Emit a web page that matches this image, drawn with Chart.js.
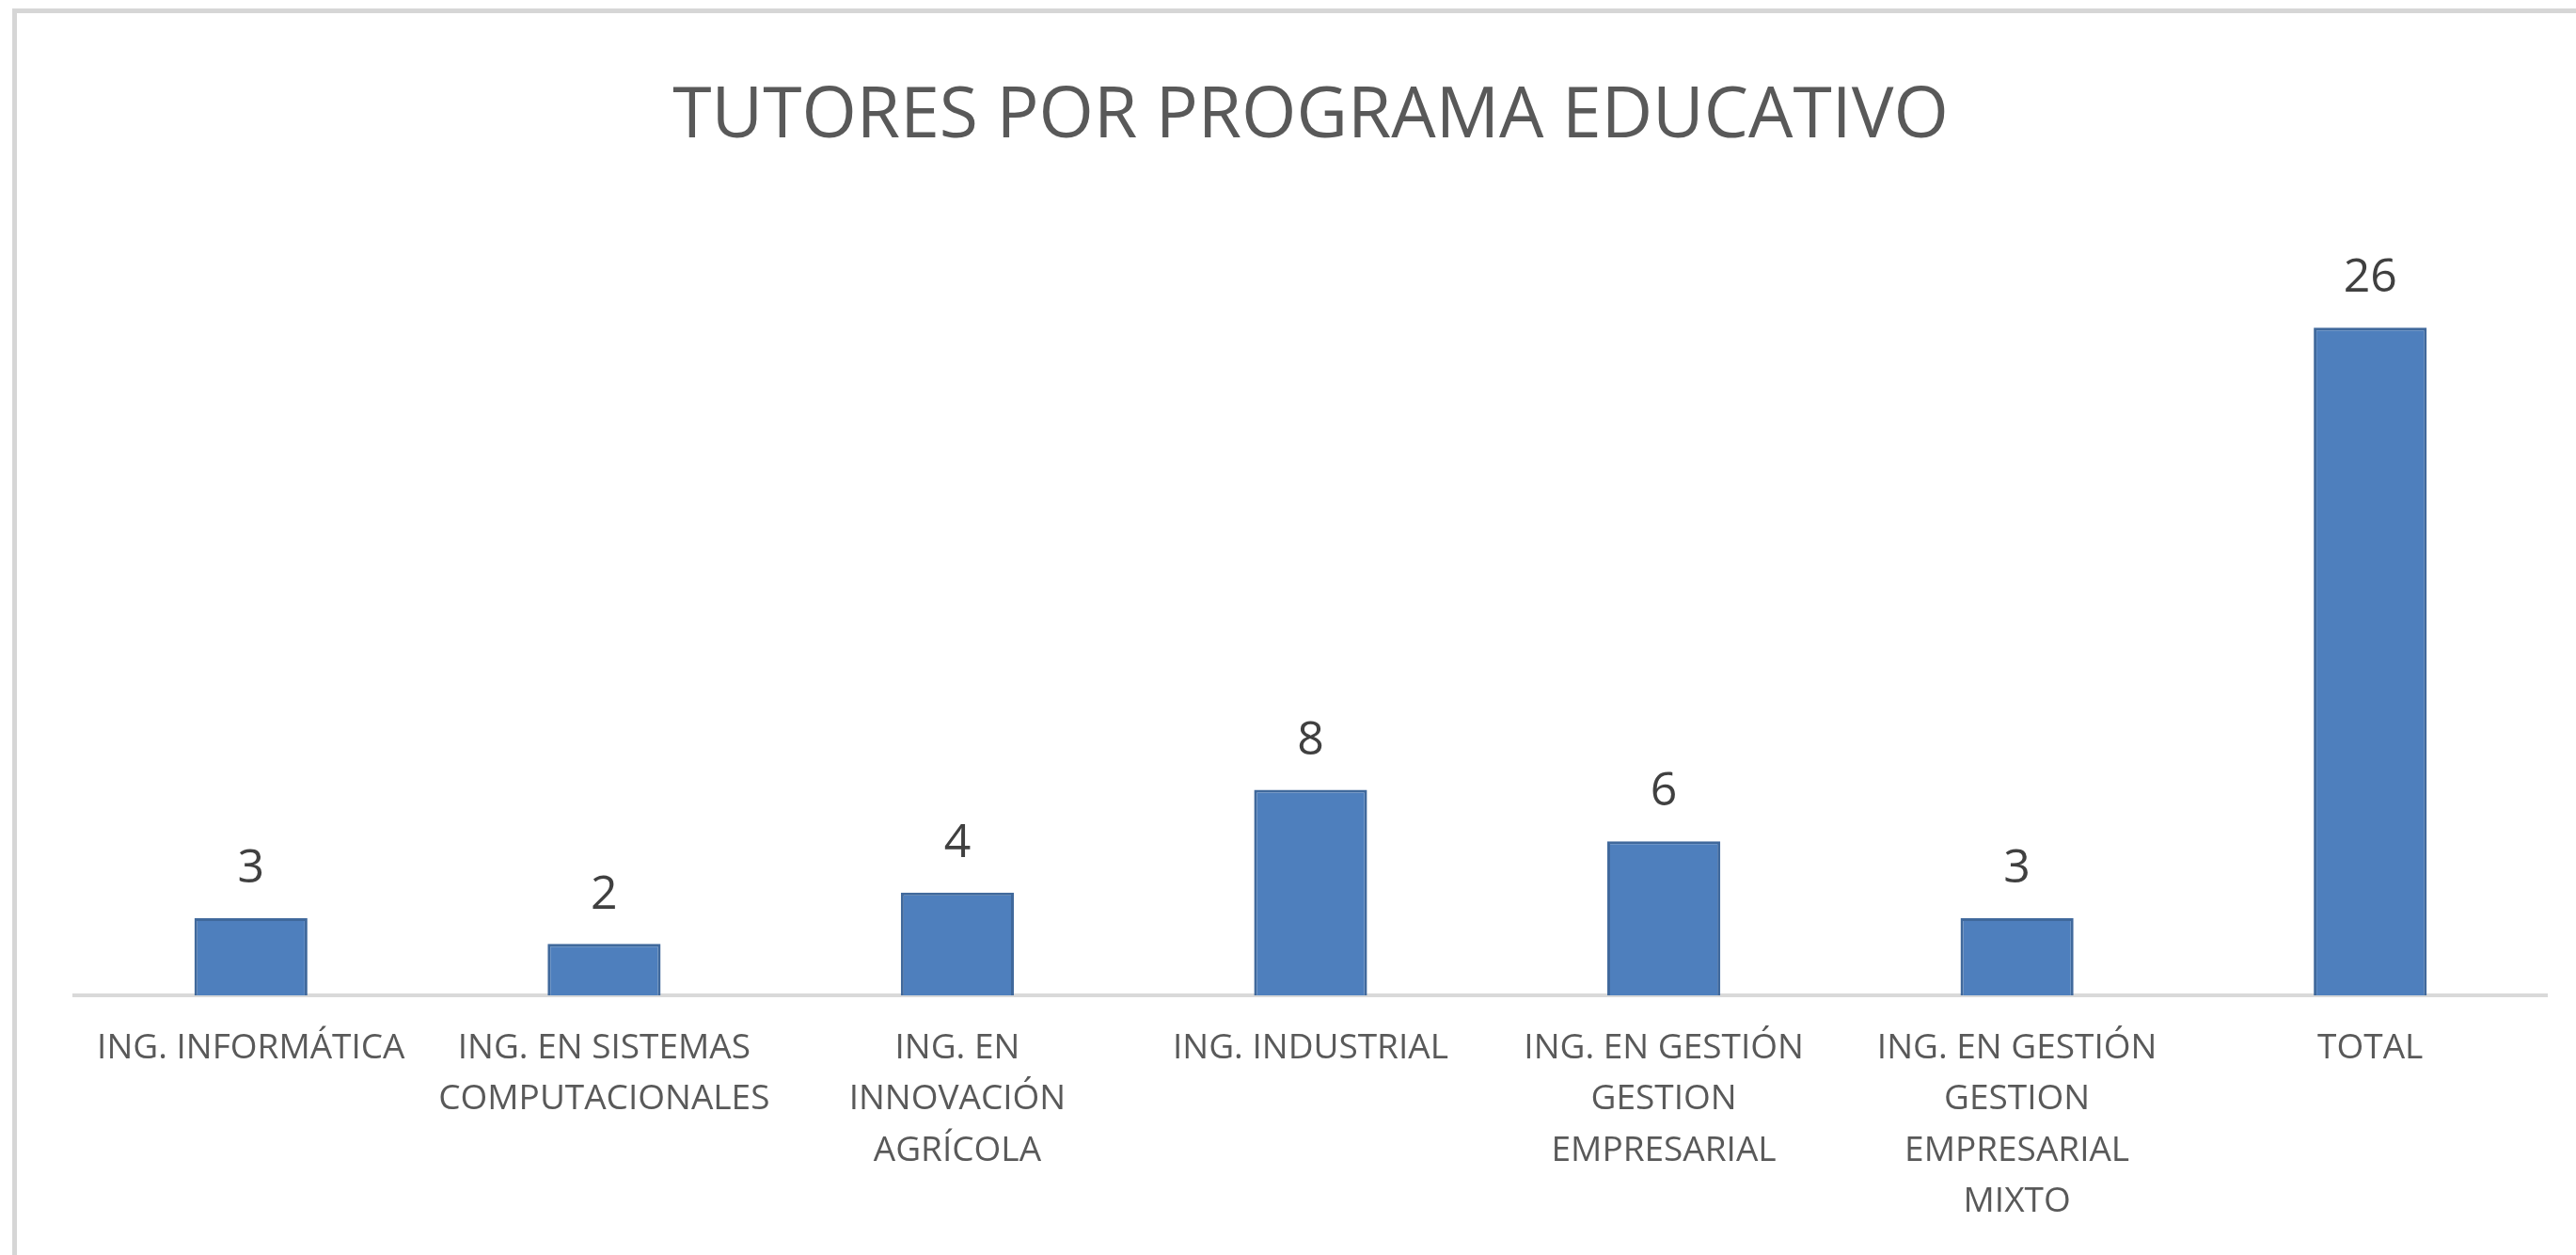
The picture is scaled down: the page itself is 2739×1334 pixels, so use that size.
<!DOCTYPE html>
<html>
<head>
<meta charset="utf-8">
<script src="https://cdn.jsdelivr.net/npm/chart.js@4"></script>
<style>
  html, body { margin: 0; padding: 0; background: #fff; overflow: hidden; }
  #wrap { position: relative; width: 2739px; height: 1334px; }
  #frame { position: absolute; left: 13px; top: 9px; width: 2800px; height: 1400px;
           border-top: 5px solid #d6d6d6; border-left: 5px solid #d6d6d6; }
  canvas { position: absolute; left: 0; top: 0; }
</style>
</head>
<body>
<div id="wrap">
  <div id="frame"></div>
  <canvas id="chart" width="2739" height="1334"></canvas>
</div>
<script>
// categorías (etiquetas en varias líneas como en el original)
const categories = [
  ['ING. INFORMÁTICA'],
  ['ING. EN SISTEMAS', 'COMPUTACIONALES'],
  ['ING. EN', 'INNOVACIÓN', 'AGRÍCOLA'],
  ['ING. INDUSTRIAL'],
  ['ING. EN GESTIÓN', 'GESTION', 'EMPRESARIAL'],
  ['ING. EN GESTIÓN', 'GESTION', 'EMPRESARIAL', 'MIXTO'],
  ['TOTAL'],
];
const tutores = [3, 2, 4, 8, 6, 3, 26];
const yMax = 30;

// etiquetas de valor encima de cada barra
const valueLabels = {
  id: 'valueLabels',
  afterDatasetsDraw(chart) {
    const ctx = chart.ctx;
    const meta = chart.getDatasetMeta(0);
    ctx.save();
    ctx.font = '50px "Open Sans", sans-serif';
    ctx.fillStyle = '#404040';
    ctx.textAlign = 'center';
    ctx.textBaseline = 'middle';
    meta.data.forEach((bar, i) => {
      ctx.fillText(String(tutores[i]), bar.x, bar.y - 52);
    });
    ctx.restore();
  },
};

new Chart(document.getElementById('chart'), {
  type: 'bar',
  data: {
    labels: categories,
    datasets: [{
      data: tutores,
      backgroundColor: '#4e7fbd',
      borderColor: '#40699c',
      borderWidth: 3,
      categoryPercentage: 1,
      barPercentage: 0.32,
    }],
  },
  options: {
    responsive: false,
    animation: false,
    layout: { padding: { left: 79, right: 31, top: 0, bottom: 0 } },
    plugins: {
      legend: { display: false },
      tooltip: { enabled: false },
      title: {
        display: true,
        text: 'TUTORES POR PROGRAMA EDUCATIVO',
        color: '#595959',
        font: { family: '"Open Sans", sans-serif', size: 75, weight: 'normal', lineHeight: 1.2 },
        padding: { top: 80, bottom: 69 },
      },
    },
    scales: {
      y: { display: false, min: 0, max: yMax },
      x: {
        grid: { display: false, drawTicks: false },
        border: { display: true, color: '#d9d9d9', width: 4 },
        ticks: {
          color: '#595959',
          padding: 30,
          maxRotation: 0,
          autoSkip: false,
          font: { family: '"Open Sans", sans-serif', size: 37, lineHeight: 1.46 },
        },
      },
    },
  },
  plugins: [valueLabels],
});
</script>
</body>
</html>
